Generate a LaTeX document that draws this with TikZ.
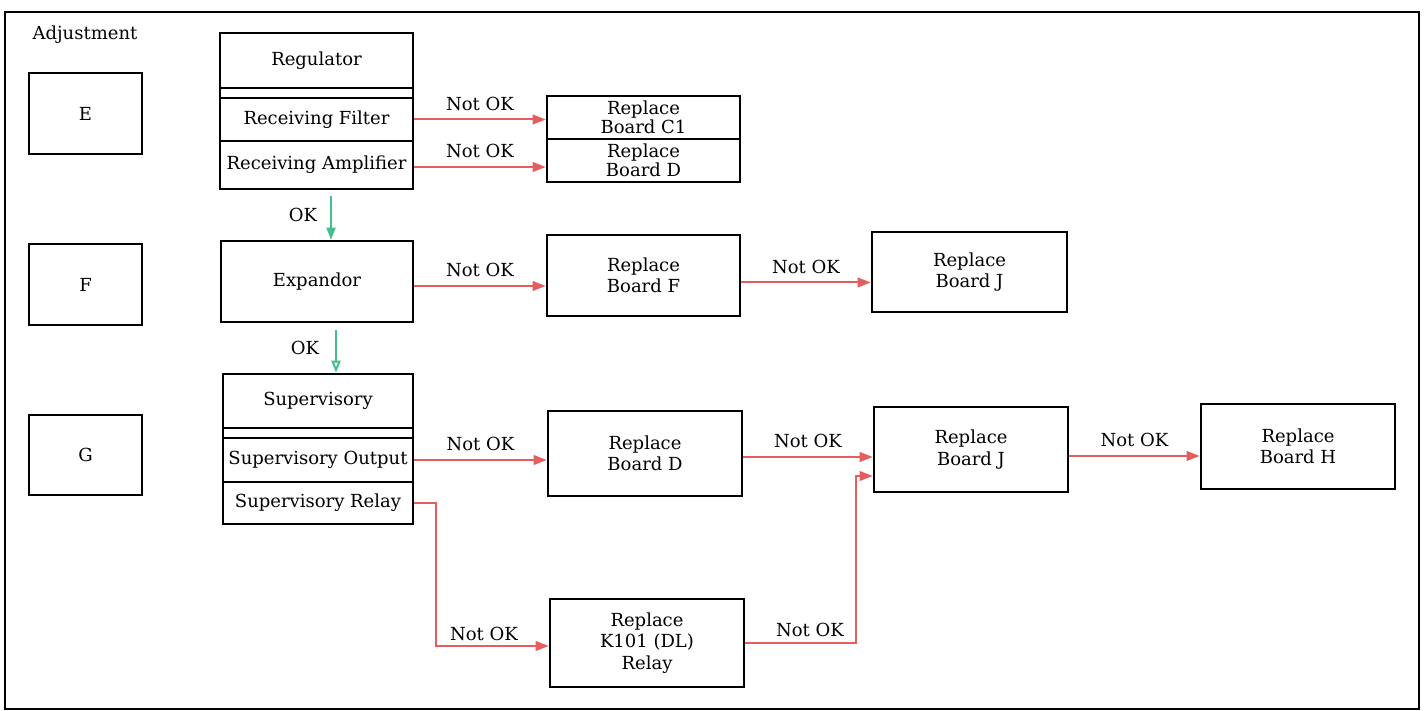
\documentclass[tikz,border=0pt]{standalone}
\usepackage{fontspec}
\setmainfont{DejaVu Serif}
\usetikzlibrary{arrows.meta,calc}
\definecolor{nokred}{RGB}{228,94,94}
\definecolor{okgreen}{RGB}{70,190,140}
\begin{document}
\begin{tikzpicture}[x=0.5pt,y=-0.5pt,
  box/.style={draw, line width=1.3pt, inner sep=0pt, align=center, font=\fontsize{9}{10.75}\selectfont},
  tightbox/.style={box, font=\fontsize{9}{8}\selectfont},
  lbl/.style={font=\fontsize{9}{10}\selectfont, inner sep=0pt},
  nok/.style={draw=nokred, line width=1pt, -{Triangle[length=6.5pt,width=4.8pt]}},
  okarr/.style={draw=okgreen, line width=1pt, -{Triangle[length=6pt,width=4.5pt]}},
  okopen/.style={draw=okgreen, line width=1pt, -{Triangle[open,length=6pt,width=4.5pt,fill=white]}}]
\useasboundingbox (0,0) rectangle (1426,711);
\draw[line width=1pt] (5,12) rectangle (1419,709);

\node[lbl] (adj) at (85,35) {Adjustment};
\node[box, minimum width=56.5pt, minimum height=40.5pt] (E) at (85.5,113.5) {E};
\node[box, minimum width=56.5pt, minimum height=40.5pt] (F) at (85.5,284.5) {F};
\node[box, minimum width=56.5pt, minimum height=40pt] (G) at (85.5,455) {G};

% Regulator group
\node[box, minimum width=96.5pt, minimum height=27.5pt] (reg) at (316.5,60.5) {Regulator};
\node[box, minimum width=96.5pt, minimum height=5pt] (gap1) at (316.5,93) {};
\node[box, minimum width=96.5pt, minimum height=21.5pt] (filt) at (316.5,119.5) {Receiving Filter};
\node[box, minimum width=96.5pt, minimum height=24pt] (amp) at (316.5,165) {Receiving Amplifier};

\node[tightbox, minimum width=96.5pt, minimum height=21.5pt] (c1) at (643.5,117.5) {Replace\\Board C1};
\node[tightbox, minimum width=96.5pt, minimum height=21.5pt] (d1) at (643.5,160.5) {Replace\\Board D};

\draw[nok] (filt.east) -- node[lbl, above=4pt] (l1) {Not OK} (filt.east -| c1.west);
\draw[nok] ([yshift=-1pt]amp.east) -- node[lbl, above=4pt] (l2) {Not OK} ([yshift=-1pt]amp.east -| d1.west);

% Expandor row
\node[box, minimum width=96pt, minimum height=40.5pt] (exp) at (317,281.5) {Expandor};
\node[box, minimum width=96.5pt, minimum height=40.5pt] (bf) at (643.5,275.5) {Replace\\Board F};
\node[box, minimum width=97.5pt, minimum height=40pt] (j1) at (969.5,272) {Replace\\Board J};

\draw[okarr] ([xshift=7.25pt,yshift=-3pt]amp.south) -- ([xshift=7pt]exp.north);
\node[lbl] (ok1) at (303,215) {OK};
\draw[nok] ([yshift=-2.25pt]exp.east) -- node[lbl, above=4pt] (l3) {Not OK} ([yshift=-2.25pt]exp.east -| bf.west);
\draw[nok] ([yshift=-3.5pt]bf.east) -- node[lbl, above=4pt] (l4) {Not OK} ([yshift=-3.5pt]bf.east -| j1.west);

% Supervisory group
\node[box, minimum width=95pt, minimum height=27pt] (sup) at (318,401) {Supervisory};
\node[box, minimum width=95pt, minimum height=5pt] (gap2) at (318,433) {};
\node[box, minimum width=95pt, minimum height=22pt] (out) at (318,460) {Supervisory Output};
\node[box, minimum width=95pt, minimum height=21pt] (rel) at (318,503) {Supervisory Relay};

\draw[okopen] ([xshift=9.5pt,yshift=-3.5pt]exp.south) -- ([xshift=9pt]sup.north);
\node[lbl] (ok2) at (305,348) {OK};

\node[box, minimum width=97pt, minimum height=42.5pt] (d2) at (645,453.5) {Replace\\Board D};
\node[box, minimum width=97pt, minimum height=42.5pt] (j2) at (971,449.5) {Replace\\Board J};
\node[box, minimum width=97pt, minimum height=42.5pt] (h) at (1298,446.5) {Replace\\Board H};
\node[box, minimum width=97pt, minimum height=44pt] (k) at (647,643) {Replace\\K101 (DL)\\Relay};

\draw[nok] (out.east) -- node[lbl, above=4pt] (l5) {Not OK} (out.east -| d2.west);
\draw[nok] ([yshift=-1.75pt]d2.east) -- node[lbl, above=4pt] (l6) {Not OK} ([yshift=-1.75pt]d2.east -| j2.west);
\draw[nok] ([yshift=-3.25pt]j2.east) -- node[lbl, above=4pt] (l7) {Not OK} ([yshift=-3.25pt]j2.east -| h.west);

\coordinate (rc) at ($(rel.east)+(22,0)$);
\draw[nok] (rel.east) -- (rc) |- ([yshift=-1.5pt]k.west);
\node[lbl] (l8) at (484,634) {Not OK};
\coordinate (kc) at ($(k.east)+(111,0)$);
\draw[nok] (k.east) -- (kc) |- ([yshift=-13.25pt]j2.west);
\node[lbl] (l9) at (810,630) {Not OK};
\end{tikzpicture}
\end{document}
